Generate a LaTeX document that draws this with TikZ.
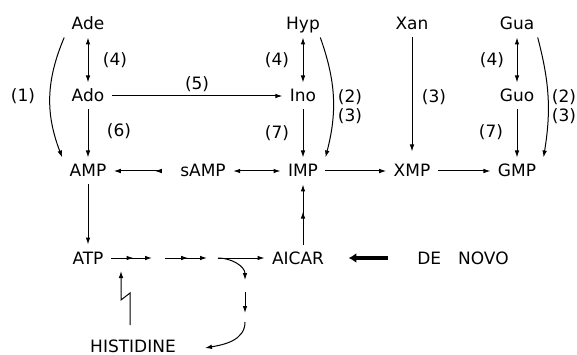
\documentclass[tikz,border=0pt]{standalone}
\usepackage{fontspec}
\setmainfont{DejaVu Sans}
\usetikzlibrary{arrows.meta,decorations.markings}

\begin{document}
\begin{tikzpicture}[
    x=1pt, y=-1pt,
    >={Latex[length=7pt,width=4.6pt]},
    rev/.tip={Latex[length=7pt,width=4.6pt,reversed]},
    line width=1pt,
    font=\fontsize{17}{19}\selectfont,
    mol/.style={inner sep=7pt, text height=12pt, text depth=0pt},
    lbl/.style={inner sep=0pt, align=center},
    midarrow/.style={postaction={decorate}, decoration={markings,
        mark=at position 0.55 with {\arrow{>}}}}
]
    \useasboundingbox (0,0) rectangle (577,355);

    % Bases, nucleosides and nucleotides
    \node[mol] (Ade)  at (88,24)  {Ade};
    \node[mol] (Ado)  at (88,96)  {Ado};
    \node[mol] (AMP)  at (88,171) {AMP};
    \node[mol] (sAMP) at (203,171) {sAMP};
    \node[mol] (Hyp)  at (303,24)  {Hyp};
    \node[mol] (Ino)  at (303,96)  {Ino};
    \node[mol] (IMP)  at (303,171) {IMP};
    \node[mol] (Xan)  at (412,24)  {Xan};
    \node[mol] (XMP)  at (412,171) {XMP};
    \node[mol] (Gua)  at (517,24)  {Gua};
    \node[mol] (Guo)  at (517,96)  {Guo};
    \node[mol] (GMP)  at (517,171) {GMP};

    % Bottom row
    \node[mol] (ATP)    at (88,258)  {ATP};
    \node[mol] (AICAR)  at (298,258) {AICAR};
    \node[mol] (denovo) at (463,258) {DE\quad NOVO};
    \node[mol] (HIS)    at (133,346) {HISTIDINE};

    % Salvage steps
    \draw[<->] (Ade) -- (Ado);
    \draw[->] (Ado) -- (AMP);
    \draw[->] (Ado) -- node[lbl, above=4pt] (l5) {(5)} (Ino);
    \draw[<->] (Hyp) -- (Ino);
    \draw[->] (Ino) -- (IMP);
    \draw[->, shorten >=6pt] (Xan) -- (XMP);
    \draw[<->] (Gua) -- (Guo);
    \draw[->] (Guo) -- (GMP);

    % Phosphoribosyl transfer (curved)
    \draw[->] (Ade.south west) to[bend right=22] (AMP.north west);
    \draw[->] ([xshift=-7pt]Hyp.south east) to[bend left=17] (IMP.north east);
    \draw[->] ([xshift=-4pt]Gua.south east) to[bend left=12] (GMP.north east);

    % Nucleotide row
    \draw[<-rev, shorten >=11pt] (AMP) -- (sAMP);
    \draw[<->] (sAMP) -- (IMP);
    \draw[->] (IMP) -- (XMP);
    \draw[->] (XMP) -- (GMP);
    \draw[->] (AMP) -- (ATP);
    \draw[->, midarrow] (AICAR.north -| IMP.south) -- (IMP.south);
    \draw[line width=3.5pt, -{Latex[length=8pt,width=10pt]},
        shorten <=22pt, shorten >=17pt] (denovo) -- (AICAR);

    % Histidine pathway
    \coordinate (c1) at (152,258);
    \coordinate (c2) at (165,258);
    \coordinate (c3) at (207,258);
    \coordinate (c4) at (218,258);
    \coordinate (b1) at (245,280);
    \coordinate (b2) at (245,292);
    \coordinate (b3) at (245,313);
    \coordinate (b4) at (245,322);
    \coordinate (h1) at (205,348);
    \coordinate (z1) at (130,325);
    \coordinate (z2) at (130,293);
    \coordinate (z3) at (121,300);
    \coordinate (z4) at (121,271);

    \draw[->, midarrow] (ATP) -- (c1);
    \draw[->, midarrow] (c2) -- (c3);
    \draw[->] (c4) -- (AICAR);
    \draw[->] (c4) to[out=0, in=90] (b1);
    \draw[->] (b2) -- (b3);
    \draw[->] (b4) to[out=-90, in=10] (h1);
    % Feedback inhibition
    \draw[->] (z1) -- (z2) -- (z3) -- (z4);

    % Enzyme numbers
    \node[lbl] (l1)   at (23,96)   {(1)};
    \node[lbl] (l4a)  at (115,60)  {(4)};
    \node[lbl] (l6)   at (119,131) {(6)};
    \node[lbl] (l4b)  at (277,60)  {(4)};
    \node[lbl] (l7a)  at (277,133) {(7)};
    \node[lbl] (l23a) at (350,107) {(2)\\(3)};
    \node[lbl] (l3)   at (434,97)  {(3)};
    \node[lbl] (l4c)  at (492,60)  {(4)};
    \node[lbl] (l7b)  at (491,132) {(7)};
    \node[lbl] (l23b) at (564,107) {(2)\\(3)};

\end{tikzpicture}
\end{document}
